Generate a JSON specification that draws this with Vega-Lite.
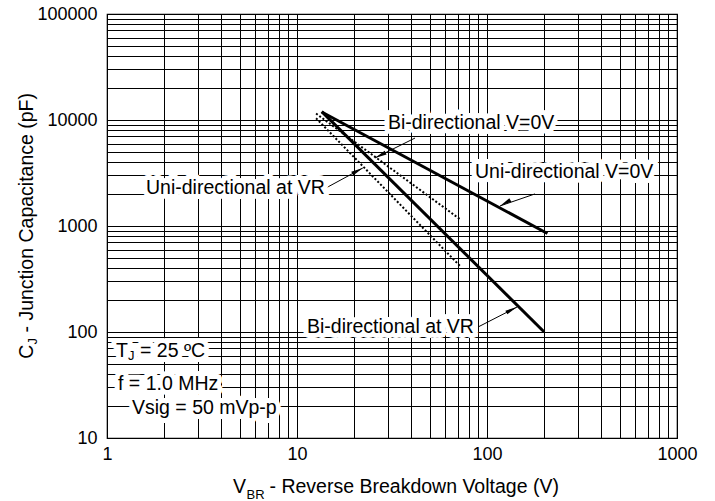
{
  "$schema": "https://vega.github.io/schema/vega-lite/v6.json",
  "width": 570,
  "height": 424,
  "autosize": "none",
  "padding": {"left": 107, "top": 14, "right": 38, "bottom": 63},
  "background": "white",
  "config": {
    "view": {"stroke": "black", "strokeWidth": 1.2},
    "font": "Liberation Sans"
  },
  "datasets": {
    "curves": [
      {"series": "Uni-directional V=0V", "v": 13.5, "c": 11900},
      {"series": "Uni-directional V=0V", "v": 208, "c": 850},
      {"series": "Bi-directional at VR", "v": 13.5, "c": 12000},
      {"series": "Bi-directional at VR", "v": 200, "c": 100},
      {"series": "Bi-directional V=0V", "v": 12.6, "c": 11500},
      {"series": "Bi-directional V=0V", "v": 73, "c": 1140},
      {"series": "Uni-directional at VR", "v": 12.6, "c": 10400},
      {"series": "Uni-directional at VR", "v": 73, "c": 410}
    ],
    "arrows": [
      {"name": "A", "x1": 41.8, "y1": 6760, "x2": 25.7, "y2": 4380},
      {"name": "B", "x1": 14.2, "y1": 2283, "x2": 22.2, "y2": 3524},
      {"name": "C", "x1": 178.9, "y1": 2008, "x2": 117, "y2": 1545},
      {"name": "D", "x1": 89.7, "y1": 111.4, "x2": 143.9, "y2": 172}
    ],
    "labels": [
      {"label": "Bi-directional V=0V", "x": 30.1, "y": 9375},
      {"label": "Uni-directional V=0V", "x": 86.5, "y": 3228},
      {"label": "Uni-directional at VR", "x": 1.604, "y": 2283},
      {"label": "Bi-directional at VR", "x": 11.29, "y": 111.4},
      {"label": "T", "x": 1.115, "y": 66.2},
      {"label": "f = 1.0 MHz", "x": 1.143, "y": 32.3},
      {"label": "Vsig = 50 mVp-p", "x": 1.354, "y": 19.2}
    ],
    "subs": [
      {"label": "J", "x": 1.115, "y": 66.2}
    ],
    "suffix": [
      {"label": "= 25 ºC", "x": 1.115, "y": 66.2}
    ]
  },
  "layer": [
    {
      "data": {"name": "curves"},
      "transform": [{"filter": {"field": "series", "oneOf": ["Uni-directional V=0V", "Bi-directional at VR"]}}],
      "mark": {"type": "line", "color": "black", "strokeWidth": 3},
      "encoding": {
        "x": {
          "field": "v", "type": "quantitative",
          "scale": {"type": "log", "domain": [1, 1000], "nice": false},
          "axis": {
            "values": [1,2,3,4,5,6,7,8,9,10,20,30,40,50,60,70,80,90,100,200,300,400,500,600,700,800,900,1000],
            "labelExpr": "indexof([1,10,100,1000], datum.value) >= 0 ? format(datum.value, 'd') : ''",
            "labelOverlap": false, "labelFlush": false, "labelBound": false,
            "labelFontSize": 18, "labelColor": "black", "labelPadding": 7,
            "ticks": false, "domain": false,
            "grid": true, "gridColor": "black", "gridOpacity": 1, "gridWidth": 1,
            "title": "- Reverse Breakdown Voltage (V)",
            "titleFontSize": 19.5, "titleFontWeight": "normal", "titleColor": "black",
            "titleX": 162, "titleY": 54, "titleAlign": "left", "titleBaseline": "alphabetic",
            "orient": "bottom"
          }
        },
        "y": {
          "field": "c", "type": "quantitative",
          "scale": {"type": "log", "domain": [10, 100000], "nice": false},
          "axis": {
            "values": [10,20,30,40,50,60,70,80,90,100,200,300,400,500,600,700,800,900,1000,2000,3000,4000,5000,6000,7000,8000,9000,10000,20000,30000,40000,50000,60000,70000,80000,90000,100000],
            "labelExpr": "indexof([10,100,1000,10000,100000], datum.value) >= 0 ? format(datum.value, 'd') : ''",
            "labelOverlap": false, "labelFlush": false, "labelBound": false,
            "labelFontSize": 18, "labelColor": "black", "labelPadding": 10,
            "ticks": false, "domain": false,
            "grid": true, "gridColor": "black", "gridOpacity": 1, "gridWidth": 1,
            "title": "- Junction Capacitance (pF)",
            "titleFontSize": 19.5, "titleFontWeight": "normal", "titleColor": "black",
            "titleAngle": 270, "titleX": -75, "titleY": 318, "titleAlign": "left", "titleBaseline": "alphabetic",
            "orient": "left"
          }
        },
        "detail": {"field": "series"}
      }
    },
    {
      "data": {"name": "curves"},
      "transform": [{"filter": {"field": "series", "oneOf": ["Bi-directional V=0V", "Uni-directional at VR"]}}],
      "mark": {"type": "line", "color": "black", "strokeWidth": 2, "strokeDash": [2, 2]},
      "encoding": {
        "x": {
          "field": "v", "type": "quantitative",
          "scale": {"type": "log", "domain": [1, 1000], "nice": false},
          "axis": {
            "orient": "bottom", "grid": false, "labels": false, "ticks": false, "domain": false,
            "title": "V", "titleFontSize": 19.5, "titleFontWeight": "normal", "titleColor": "black",
            "titleX": 125.6, "titleY": 54, "titleAlign": "left", "titleBaseline": "alphabetic"
          }
        },
        "y": {
          "field": "c", "type": "quantitative",
          "scale": {"type": "log", "domain": [10, 100000], "nice": false},
          "axis": {
            "orient": "left", "grid": false, "labels": false, "ticks": false, "domain": false,
            "title": "C", "titleFontSize": 19.5, "titleFontWeight": "normal", "titleColor": "black",
            "titleAngle": 270, "titleX": -75, "titleY": 344.2, "titleAlign": "left", "titleBaseline": "alphabetic"
          }
        },
        "detail": {"field": "series"}
      }
    },
    {
      "data": {"name": "arrows"},
      "mark": {"type": "rule", "color": "black", "strokeWidth": 1},
      "encoding": {
        "x": {
          "field": "x1", "type": "quantitative",
          "scale": {"type": "log", "domain": [1, 1000], "nice": false},
          "axis": {
            "orient": "bottom", "grid": false, "labels": false, "ticks": false, "domain": false,
            "title": "BR", "titleFontSize": 13, "titleFontWeight": "normal", "titleColor": "black",
            "titleX": 139, "titleY": 60, "titleAlign": "left", "titleBaseline": "alphabetic"
          }
        },
        "y": {
          "field": "y1", "type": "quantitative",
          "scale": {"type": "log", "domain": [10, 100000], "nice": false},
          "axis": {
            "orient": "left", "grid": false, "labels": false, "ticks": false, "domain": false,
            "title": "J", "titleFontSize": 13, "titleFontWeight": "normal", "titleColor": "black",
            "titleAngle": 270, "titleX": -71, "titleY": 330, "titleAlign": "left", "titleBaseline": "alphabetic"
          }
        },
        "x2": {"field": "x2"},
        "y2": {"field": "y2"}
      }
    },
    {
      "data": {"name": "arrows"},
      "transform": [{"filter": "datum.name == 'A'"}],
      "mark": {"type": "point", "shape": "M0,0L-0.35,2L0.35,2Z", "filled": true, "color": "black", "opacity": 1, "size": 144, "angle": 243.4},
      "encoding": {
        "x": {"field": "x2", "type": "quantitative", "scale": {"type": "log", "domain": [1, 1000], "nice": false}, "axis": null},
        "y": {"field": "y2", "type": "quantitative", "scale": {"type": "log", "domain": [10, 100000], "nice": false}, "axis": null}
      }
    },
    {
      "data": {"name": "arrows"},
      "transform": [{"filter": "datum.name == 'B'"}],
      "mark": {"type": "point", "shape": "M0,0L-0.35,2L0.35,2Z", "filled": true, "color": "black", "opacity": 1, "size": 144, "angle": 61.6},
      "encoding": {
        "x": {"field": "x2", "type": "quantitative", "scale": {"type": "log", "domain": [1, 1000], "nice": false}, "axis": null},
        "y": {"field": "y2", "type": "quantitative", "scale": {"type": "log", "domain": [10, 100000], "nice": false}, "axis": null}
      }
    },
    {
      "data": {"name": "arrows"},
      "transform": [{"filter": "datum.name == 'C'"}],
      "mark": {"type": "point", "shape": "M0,0L-0.35,2L0.35,2Z", "filled": true, "color": "black", "opacity": 1, "size": 144, "angle": 240.3},
      "encoding": {
        "x": {"field": "x2", "type": "quantitative", "scale": {"type": "log", "domain": [1, 1000], "nice": false}, "axis": null},
        "y": {"field": "y2", "type": "quantitative", "scale": {"type": "log", "domain": [10, 100000], "nice": false}, "axis": null}
      }
    },
    {
      "data": {"name": "arrows"},
      "transform": [{"filter": "datum.name == 'D'"}],
      "mark": {"type": "point", "shape": "M0,0L-0.35,2L0.35,2Z", "filled": true, "color": "black", "opacity": 1, "size": 144, "angle": 62.9},
      "encoding": {
        "x": {"field": "x2", "type": "quantitative", "scale": {"type": "log", "domain": [1, 1000], "nice": false}, "axis": null},
        "y": {"field": "y2", "type": "quantitative", "scale": {"type": "log", "domain": [10, 100000], "nice": false}, "axis": null}
      }
    },
    {
      "data": {"name": "labels"},
      "mark": {"type": "text", "align": "left", "baseline": "middle", "fontSize": 19.5, "fill": "white", "stroke": "white", "strokeWidth": 10, "strokeJoin": "round"},
      "encoding": {
        "x": {"field": "x", "type": "quantitative", "scale": {"type": "log", "domain": [1, 1000], "nice": false}, "axis": null},
        "y": {"field": "y", "type": "quantitative", "scale": {"type": "log", "domain": [10, 100000], "nice": false}, "axis": null},
        "text": {"field": "label"}
      }
    },
    {
      "data": {"name": "suffix"},
      "mark": {"type": "text", "align": "left", "baseline": "middle", "fontSize": 19.5, "dx": 24, "fill": "white", "stroke": "white", "strokeWidth": 10, "strokeJoin": "round"},
      "encoding": {
        "x": {"field": "x", "type": "quantitative", "scale": {"type": "log", "domain": [1, 1000], "nice": false}, "axis": null},
        "y": {"field": "y", "type": "quantitative", "scale": {"type": "log", "domain": [10, 100000], "nice": false}, "axis": null},
        "text": {"field": "label"}
      }
    },
    {
      "data": {"name": "subs"},
      "mark": {"type": "text", "align": "left", "baseline": "middle", "fontSize": 13, "dx": 12, "dy": 5, "fill": "white", "stroke": "white", "strokeWidth": 8, "strokeJoin": "round"},
      "encoding": {
        "x": {"field": "x", "type": "quantitative", "scale": {"type": "log", "domain": [1, 1000], "nice": false}, "axis": null},
        "y": {"field": "y", "type": "quantitative", "scale": {"type": "log", "domain": [10, 100000], "nice": false}, "axis": null},
        "text": {"field": "label"}
      }
    },
    {
      "data": {"name": "labels"},
      "mark": {"type": "text", "align": "left", "baseline": "middle", "fontSize": 19.5, "fill": "black"},
      "encoding": {
        "x": {"field": "x", "type": "quantitative", "scale": {"type": "log", "domain": [1, 1000], "nice": false}, "axis": null},
        "y": {"field": "y", "type": "quantitative", "scale": {"type": "log", "domain": [10, 100000], "nice": false}, "axis": null},
        "text": {"field": "label"}
      }
    },
    {
      "data": {"name": "suffix"},
      "mark": {"type": "text", "align": "left", "baseline": "middle", "fontSize": 19.5, "dx": 24, "fill": "black"},
      "encoding": {
        "x": {"field": "x", "type": "quantitative", "scale": {"type": "log", "domain": [1, 1000], "nice": false}, "axis": null},
        "y": {"field": "y", "type": "quantitative", "scale": {"type": "log", "domain": [10, 100000], "nice": false}, "axis": null},
        "text": {"field": "label"}
      }
    },
    {
      "data": {"name": "subs"},
      "mark": {"type": "text", "align": "left", "baseline": "middle", "fontSize": 13, "fill": "black", "dx": 12, "dy": 5},
      "encoding": {
        "x": {"field": "x", "type": "quantitative", "scale": {"type": "log", "domain": [1, 1000], "nice": false}, "axis": null},
        "y": {"field": "y", "type": "quantitative", "scale": {"type": "log", "domain": [10, 100000], "nice": false}, "axis": null},
        "text": {"field": "label"}
      }
    }
  ],
  "resolve": {"axis": {"x": "independent", "y": "independent"}}
}
